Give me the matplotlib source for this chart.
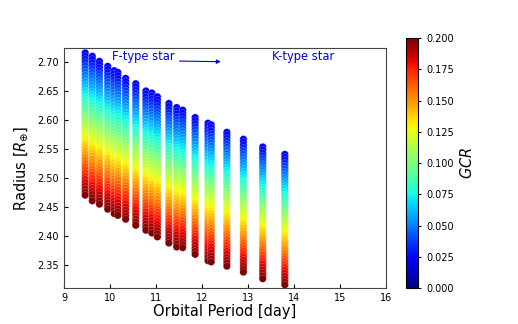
import numpy as np
import matplotlib
matplotlib.use("Agg")
import matplotlib.pyplot as plt

# Orbital period of each column [day]
periods = [9.46, 9.615, 9.77, 9.95, 10.09, 10.17, 10.34, 10.56, 10.78, 10.91, 11.03,
           11.28, 11.45, 11.58, 11.85, 12.13, 12.20, 12.54, 12.90, 13.32, 13.80]
# Radius at the lowest GCR (top of column) and highest GCR (bottom of column)
radius_low_gcr = [2.7155, 2.7097, 2.701, 2.6924, 2.685, 2.682, 2.6717, 2.6625, 2.650, 2.6465, 2.640,
                  2.6285, 2.6215, 2.617, 2.6043, 2.5946, 2.592, 2.579, 2.567, 2.5537, 2.541]
radius_high_gcr = [2.4708, 2.461, 2.4553, 2.4466, 2.439, 2.436, 2.4294, 2.419, 2.4104, 2.4057, 2.399,
                   2.3884, 2.3815, 2.3805, 2.369, 2.358, 2.356, 2.3486, 2.3384, 2.327, 2.3166]
# GCR grid sampled for each period
gcr_grid = [0.020, 0.024, 0.028, 0.032, 0.036, 0.040, 0.044, 0.048, 0.052, 0.056,
            0.060, 0.064, 0.068, 0.072, 0.076, 0.080, 0.084, 0.088, 0.092, 0.096,
            0.100, 0.104, 0.108, 0.112, 0.116, 0.120, 0.124, 0.128, 0.132, 0.136,
            0.140, 0.144, 0.148, 0.152, 0.156, 0.160, 0.164, 0.168, 0.172, 0.176,
            0.180, 0.184, 0.188, 0.192, 0.196, 0.200]
cbar_ticks = [0.000, 0.025, 0.050, 0.075, 0.100, 0.125, 0.150, 0.175, 0.200]
x_ticks = [9, 10, 11, 12, 13, 14, 15, 16]
y_ticks = [2.35, 2.40, 2.45, 2.50, 2.55, 2.60, 2.65, 2.70]

g = np.array(gcr_grid)
gmin, gmax = g.min(), g.max()
xs, ys, cs = [], [], []
for p, rt, rb in zip(periods, radius_low_gcr, radius_high_gcr):
    r = rt + (rb - rt) * (g - gmin) / (gmax - gmin)
    xs.extend([p] * len(g))
    ys.extend(r)
    cs.extend(g)

fig = plt.figure(figsize=(5.18, 3.24), dpi=100)
ax = fig.add_axes([0.1236, 0.111, 0.6216, 0.741])
sc = ax.scatter(xs, ys, c=cs, cmap='jet', vmin=0.0, vmax=0.2, s=28,
                edgecolors=(1, 1, 1, 0.45), linewidths=0.3)

ax.set_xlim(9, 16)
ax.set_ylim(2.311, 2.724)
ax.set_xticks(x_ticks)
ax.set_yticks(y_ticks)
ax.set_yticklabels([f"{v:.2f}" for v in y_ticks])
ax.tick_params(direction='in', labelsize=7, length=3)
ax.set_xlabel("Orbital Period [day]", fontsize=10.5, labelpad=1)
ax.set_ylabel(r"Radius [$R_{\oplus}$]", fontsize=10.5, labelpad=5)
for sp in ax.spines.values():
    sp.set_color('#444444')

ax.text(10.04, 2.7086, "F-type star", color='#0000ee', fontsize=8.3, va='center', ha='left')
ax.annotate("", xy=(12.47, 2.7003), xytext=(11.45, 2.7015),
            arrowprops=dict(arrowstyle='-|>', color='#0000ee', lw=0.8, mutation_scale=6))
ax.text(13.52, 2.7086, "K-type star", color='#0000ee', fontsize=8.3, va='center', ha='left')

cax = fig.add_axes([0.783, 0.111, 0.0245, 0.771])
cb = fig.colorbar(sc, cax=cax, ticks=cbar_ticks)
cb.ax.set_yticklabels([f"{v:.3f}" for v in cbar_ticks])
cb.ax.tick_params(labelsize=7, length=2)
cb.set_label(r"$GCR$", fontsize=10.5, labelpad=4)

fig.savefig("out.png", dpi=100)
